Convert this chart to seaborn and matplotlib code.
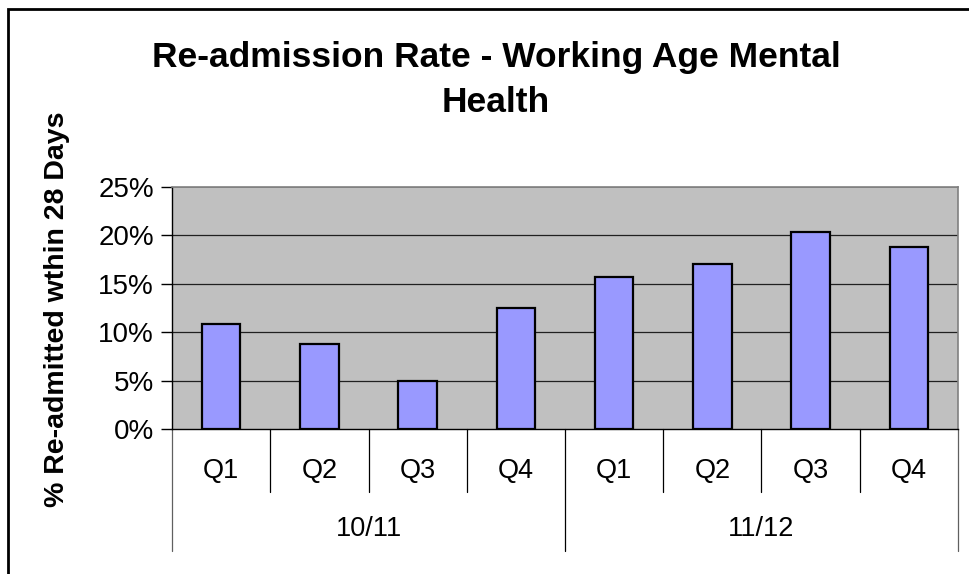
import matplotlib
matplotlib.use('Agg')
import matplotlib.pyplot as plt
import matplotlib.transforms as mtransforms
from matplotlib.patches import Rectangle
import seaborn as sns
import pandas as pd

# data
years = ['10/11', '10/11', '10/11', '10/11', '11/12', '11/12', '11/12', '11/12']
quarters = ['Q1', 'Q2', 'Q3', 'Q4', 'Q1', 'Q2', 'Q3', 'Q4']
rates = [10.8, 8.8, 5.0, 12.5, 15.7, 17.0, 20.4, 18.8]
yticks = [0, 5, 10, 15, 20, 25]

sns.set_theme(style='white')
plt.rcParams['font.family'] = ['Liberation Sans', 'DejaVu Sans']
plt.rcParams['text.color'] = 'black'
plt.rcParams['ytick.color'] = 'black'
plt.rcParams['ytick.labelcolor'] = 'black'

df = pd.DataFrame({'year': years, 'quarter': quarters, 'rate': rates})
df['period'] = df['year'] + ' ' + df['quarter']

fig = plt.figure(figsize=(9.7, 5.74), dpi=100)
ax = fig.add_axes([172 / 970, 1 - 429 / 574, 786 / 970, 242 / 574])
ax.set_facecolor('#C0C0C0')

sns.barplot(data=df, x='period', y='rate', order=list(df['period']),
            color='#9999FF', edgecolor='black', linewidth=1.6,
            width=0.39, saturation=1, ax=ax, zorder=3)

ax.set_ylim(0, 25)
ax.set_xlim(-0.5, len(rates) - 0.5)
ax.set_yticks(yticks)
ax.set_yticklabels([f'{t}%' for t in yticks], fontsize=20)
for t in yticks[1:-1]:
    ax.axhline(t, color='#202020', linewidth=0.9, zorder=1)
ax.axhline(25, color='#808080', linewidth=1.2, zorder=1)
ax.tick_params(axis='y', left=True, length=8, width=1, color='black', pad=5)
ax.set_xlabel('')
ax.set_ylabel('')

for s in ['top', 'right']:
    ax.spines[s].set_color('#808080')
    ax.spines[s].set_linewidth(1.2)
for s in ['left', 'bottom']:
    ax.spines[s].set_color('black')
    ax.spines[s].set_linewidth(1.0)

# two-level category axis
ax.set_xticks([])
trans = mtransforms.blended_transform_factory(ax.transData, ax.transAxes)
for i, q in enumerate(quarters):
    ax.text(i, -42 / 242, q, transform=trans, ha='center', va='center',
            fontsize=19.5, clip_on=False)
n = len(quarters)
for b in range(n + 1):
    x = b - 0.5
    long_tick = b == 0 or b == n or years[b - 1] != years[min(b, n - 1)]
    y1 = -122 / 242 if long_tick else -63 / 242
    col = '#606060' if b in (0, n) else 'black'
    ax.plot([x, x], [0, y1], transform=trans, color=col, linewidth=0.9,
            clip_on=False)
groups = []
for i, y in enumerate(years):
    if not groups or groups[-1][0] != y:
        groups.append([y, i, i])
    else:
        groups[-1][2] = i
for y, a, b in groups:
    ax.text((a + b) / 2, -100 / 242, y, transform=trans, ha='center',
            va='center', fontsize=19.5, clip_on=False)

fig.text(496 / 970, 1 - 80 / 574,
         'Re-admission Rate - Working Age Mental\nHealth',
         ha='center', va='center', fontsize=25.5, fontweight='bold',
         linespacing=1.45)
fig.text(57 / 970, 1 - 309 / 574, '% Re-admitted wthin 28 Days',
         rotation=90, ha='center', va='center', fontsize=20.5,
         fontweight='bold')

# chart border, cut off at right and bottom like the reference
fig.patches.append(Rectangle((8 / 970, -0.1), 1.2, 1.1 - 9 / 574,
                             transform=fig.transFigure, fill=False,
                             edgecolor='black', linewidth=2))

fig.savefig('out.png', dpi=100)
